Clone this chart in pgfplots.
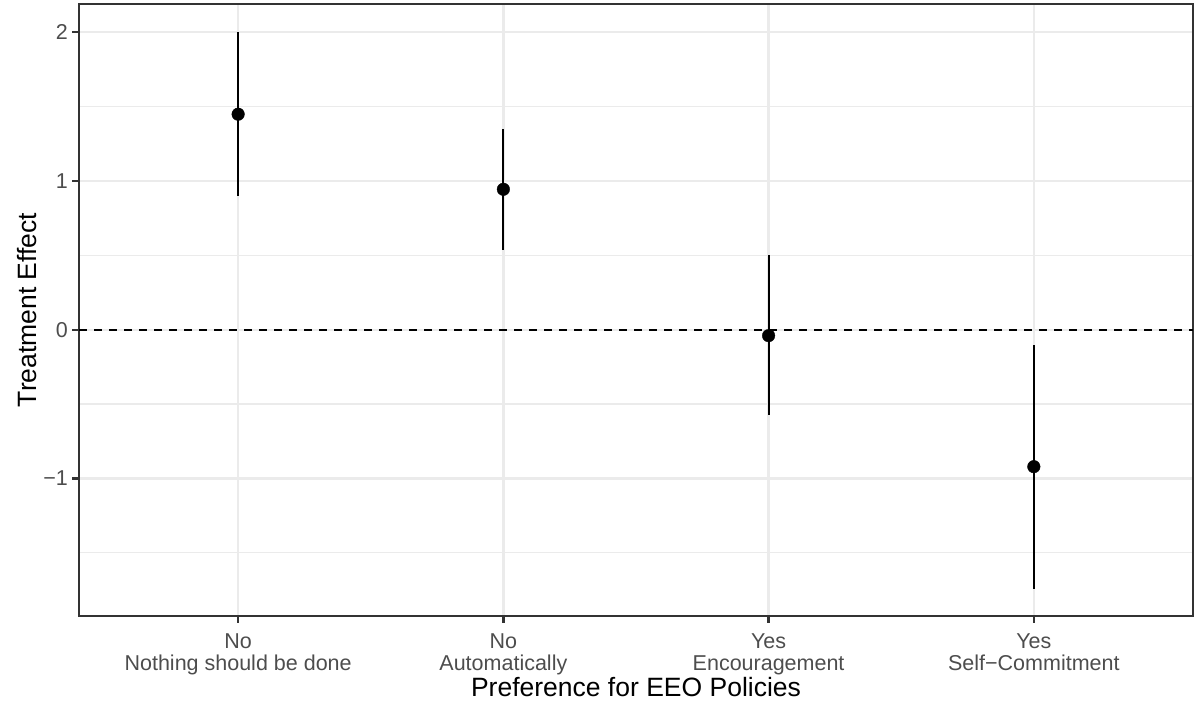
\documentclass[border=0pt]{standalone}
\usepackage{fontspec}
\setmainfont{Liberation Sans}
\usepackage{pgfplots}
\pgfplotsset{compat=1.18}
\definecolor{gggrid}{HTML}{EBEBEB}
\definecolor{ggtext}{HTML}{4D4D4D}
\definecolor{ggframe}{HTML}{333333}
\begin{document}
\begin{tikzpicture}[x=1pt,y=1pt]
\useasboundingbox (0,0) rectangle (1196,704);
\begin{axis}[
  at={(79pt,88pt)}, anchor=south west,
  scale only axis, width=1114pt, height=612pt,
  xmin=0.4, xmax=4.6, ymin=-1.925, ymax=2.19,
  xtick={1,2,3,4},
  xticklabels={{No\\Nothing should be done},{No\\Automatically},{Yes\\Encouragement},{Yes\\Self−Commitment}},
  ytick={-1,0,1,2}, yticklabels={−1,0,1,2},
  minor ytick={-1.5,-0.5,0.5,1.5},
  grid=both,
  major grid style={gggrid, line width=2.4pt},
  minor grid style={gggrid, line width=1.2pt},
  axis line style={ggframe, line width=2.4pt},
  major tick length=6.6pt, minor tick length=0pt,
  tick align=outside, tick pos=left,
  every tick/.style={ggframe, line width=2.4pt},
  ticklabel style={font=\fontsize{21.5}{22}\selectfont, text=ggtext},
  xticklabel style={align=center, yshift=-8pt},
  yticklabel style={xshift=-1pt},
  xlabel={Preference for EEO Policies},
  ylabel={Treatment Effect},
  label style={font=\fontsize{26.5}{30}\selectfont, black},
  xlabel style={yshift=5pt},
  clip=false,
]
\addplot[black, line width=2.2pt, dash pattern=on 8pt off 7pt] coordinates {(0.4,0) (4.6,0)};
\addplot[black, only marks, mark=*, mark size=6.3pt,
  error bars/.cd, y dir=both, y explicit, error mark=none,
  error bar style={line width=2.2pt, black}]
  coordinates {
  (1,1.449) += (0,0.551) -= (0,0.550)
  (2,0.944) += (0,0.406) -= (0,0.408)
  (3,-0.040) += (0,0.542) -= (0,0.534)
  (4,-0.921) += (0,0.821) -= (0,0.823)
  };
\end{axis}
\end{tikzpicture}
\end{document}
